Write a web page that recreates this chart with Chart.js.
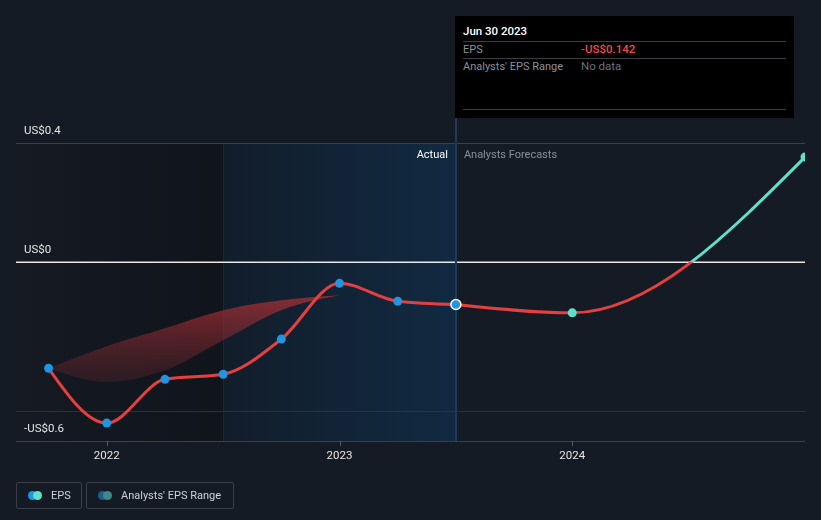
<!DOCTYPE html>
<html><head><meta charset="utf-8">
<script src="https://cdn.jsdelivr.net/npm/chart.js@4"></script>
<style>
html,body{margin:0;padding:0;background:#151b24;}
#wrap{position:relative;width:821px;height:520px;font-family:Roboto,"Noto Sans",sans-serif;overflow:hidden;}
#c{position:absolute;left:0;top:0;}
.tip{position:absolute;left:455px;top:16px;width:339px;height:102px;background:#000;}
.tip .t{position:absolute;left:8px;top:8px;color:#fff;font-size:11.5px;font-weight:500;}
.tip .hr{position:absolute;left:8px;width:323px;height:1px;background:#3a3d42;}
.tip .k{position:absolute;left:8px;color:#8b9099;font-size:11px;}
.tip .v{position:absolute;left:126px;font-size:11.5px;}
.leg{position:absolute;top:482px;height:27px;border:1px solid #3a4049;border-radius:2px;box-sizing:border-box;color:#cfd3d9;font-size:11px;}
.leg span.l{position:absolute;top:6px;}
.dot{position:absolute;top:8px;width:9px;height:9px;border-radius:50%;}
</style></head>
<body><div id="wrap">
<canvas id="c" width="821" height="520"></canvas>
<div class="tip">
  <div class="t">Jun 30 2023</div>
  <div class="hr" style="top:25px"></div>
  <div class="k" style="top:27px">EPS</div>
  <div class="v" style="top:26px;color:#f04a4a;font-weight:500">-US$0.142</div>
  <div class="hr" style="top:42px"></div>
  <div class="k" style="top:44px">Analysts' EPS Range</div>
  <div class="v" style="top:43px;color:#6b7079">No data</div>
  <div class="hr" style="top:93px"></div>
</div>
<div class="leg" style="left:16px;width:66px;">
  <div class="dot" style="left:11px;background:#2394df"></div>
  <div class="dot" style="left:16px;background:#5fe0ca"></div>
  <span class="l" style="left:34px">EPS</span>
</div>
<div class="leg" style="left:86px;width:148px;">
  <div class="dot" style="left:11px;background:#1f5f8c"></div>
  <div class="dot" style="left:16px;background:#3d8b88"></div>
  <span class="l" style="left:34px">Analysts' EPS Range</span>
</div>
</div>
<script>
// ---- data ----
const actualDates = [2021.75, 2022.0, 2022.25, 2022.5, 2022.75, 2023.0, 2023.25, 2023.5];
const epsActual   = [-0.356, -0.540, -0.393, -0.376, -0.258, -0.071, -0.131, -0.142];
const forecastDates = [2023.5, 2024.0, 2025.0];
const epsForecast   = [-0.142, -0.170, 0.353];
const rangeDates = [2021.75, 2022.0, 2022.25, 2022.5, 2022.75, 2023.0];
const rangeHigh  = [-0.356, -0.282, -0.222, -0.161, -0.128, -0.111];
const rangeLow   = [-0.356, -0.402, -0.363, -0.262, -0.161, -0.111];
const yTickValues = [0.4, 0, -0.6];
const yTickLabels = ['US$0.4', 'US$0', '-US$0.6'];
const xTickValues = [2022, 2023, 2024];
const xTickLabels = ['2022', '2023', '2024'];
const pastStart = 2022.5;
const lastActual = 2023.5;

const RED = '#e5403f', TEAL = '#5fe0ca', BLUE = '#2394df';
const pts = (xs, ys) => xs.map((x, i) => ({x, y: ys[i]}));

// monotone-X control points (d3 style) computed on the pixel positions given by the scales
const monotonePlugin = {
  id: 'monoX',
  afterDatasetsUpdate(chart) {
    chart.data.datasets.forEach((ds, di) => {
      const meta = chart.getDatasetMeta(di);
      const line = meta.dataset; if (!line) return;
      line.updateControlPoints(chart.chartArea, 'x');
      const p = meta.data; const n = p.length; if (n < 2) return;
      const sgn = v => v < 0 ? -1 : 1;
      const h = [], s = [];
      for (let i = 0; i < n - 1; i++) { h[i] = p[i+1].x - p[i].x; s[i] = (p[i+1].y - p[i].y) / h[i]; }
      const t = new Array(n);
      if (n === 2) { t[0] = t[1] = s[0]; }
      else {
        for (let i = 1; i < n - 1; i++) {
          const s0 = s[i-1], s1 = s[i], h0 = h[i-1], h1 = h[i];
          const q = (s0 * h1 + s1 * h0) / (h0 + h1);
          t[i] = (sgn(s0) + sgn(s1)) * Math.min(Math.abs(s0), Math.abs(s1), 0.5 * Math.abs(q)) || 0;
        }
        t[0] = (3 * s[0] - t[1]) / 2;
        t[n-1] = (3 * s[n-2] - t[n-2]) / 2;
      }
      for (let i = 0; i < n - 1; i++) {
        const dx = h[i] / 3;
        p[i].cp2x = p[i].x + dx; p[i].cp2y = p[i].y + dx * t[i];
        p[i+1].cp1x = p[i+1].x - dx; p[i+1].cp1y = p[i+1].y - dx * t[i+1];
      }
      p[0].cp1x = p[0].x; p[0].cp1y = p[0].y;
      p[n-1].cp2x = p[n-1].x; p[n-1].cp2y = p[n-1].y;
    });
  }
};

const bgPlugin = {
  id: 'bg',
  beforeDatasetsDraw(chart) {
    const {ctx, chartArea: a, scales: {x, y}} = chart;
    const xp = x.getPixelForValue(pastStart), xl = x.getPixelForValue(lastActual);
    ctx.save();
    let g = ctx.createLinearGradient(a.left, 0, xp, 0);
    g.addColorStop(0, '#151a23'); g.addColorStop(1, '#10141b');
    ctx.fillStyle = g; ctx.fillRect(a.left, a.top, xp - a.left, a.bottom - a.top);
    g = ctx.createLinearGradient(xp, 0, xl, 0);
    g.addColorStop(0, '#121d2a'); g.addColorStop(1, '#112a42');
    ctx.fillStyle = g; ctx.fillRect(xp, a.top, xl - xp, a.bottom - a.top);
    ctx.fillStyle = '#1b2938'; ctx.fillRect(xp, a.top, 1, a.bottom - a.top);
    const grid = [[0.4, '#3b4049'], [-0.5, '#2c323b'], [-0.6, '#3b4049']];
    grid.forEach(([v, c]) => { ctx.fillStyle = c; ctx.fillRect(a.left, Math.round(y.getPixelForValue(v)), a.right - a.left, 1); });
    ctx.fillStyle = '#e8e8e8'; ctx.fillRect(a.left, Math.round(y.getPixelForValue(0)) - 0.5, a.right - a.left, 1.5);
    ctx.fillStyle = '#1f3a58'; ctx.fillRect(Math.round(xl) - 1, 117, 2, a.bottom - 117);
    ctx.font = '11.5px Roboto, "Noto Sans", sans-serif';
    ctx.textBaseline = 'middle';
    ctx.fillStyle = '#e6e6e6'; ctx.textAlign = 'left';
    yTickValues.forEach((v, i) => ctx.fillText(yTickLabels[i], 24, y.getPixelForValue(v) - 12));
    ctx.textAlign = 'center';
    xTickValues.forEach((v, i) => {
      const px = x.getPixelForValue(v);
      ctx.fillStyle = '#555b63'; ctx.fillRect(Math.round(px), a.bottom, 1, 5);
      ctx.fillStyle = '#e6e6e6'; ctx.fillText(xTickLabels[i], px, a.bottom + 15);
    });
    ctx.font = '11px Roboto, "Noto Sans", sans-serif';
    ctx.textAlign = 'right'; ctx.fillStyle = '#ffffff';
    ctx.fillText('Actual', xl - 8, a.top + 12);
    ctx.textAlign = 'left'; ctx.fillStyle = '#8a9099';
    ctx.fillText('Analysts Forecasts', xl + 8, a.top + 12);
    ctx.restore();
  }
};

function forecastColor(c) {
  const chart = c.chart, a = chart.chartArea;
  if (!a) return RED;
  const y0 = chart.scales.y.getPixelForValue(0);
  const g = chart.ctx.createLinearGradient(0, a.top, 0, a.bottom);
  const s = Math.min(1, Math.max(0, (y0 - a.top) / (a.bottom - a.top)));
  g.addColorStop(0, TEAL); g.addColorStop(s, TEAL); g.addColorStop(s, RED); g.addColorStop(1, RED);
  return g;
}
function rangeFill(c) {
  const chart = c.chart, a = chart.chartArea;
  if (!a) return 'rgba(170,45,50,0.5)';
  const y = chart.scales.y;
  const g = chart.ctx.createLinearGradient(0, y.getPixelForValue(-0.11), 0, y.getPixelForValue(-0.40));
  g.addColorStop(0, 'rgba(175,48,52,0.75)');
  g.addColorStop(1, 'rgba(120,40,48,0.25)');
  return g;
}

new Chart(document.getElementById('c'), {
  type: 'line',
  data: {
    datasets: [
      {data: pts(actualDates, epsActual), borderColor: RED, borderWidth: 3, cubicInterpolationMode: 'monotone',
       pointRadius: actualDates.map((d, i) => i === actualDates.length - 1 ? 5 : 4.5),
       pointBackgroundColor: BLUE,
       pointBorderColor: actualDates.map((d, i) => i === actualDates.length - 1 ? '#ffffff' : BLUE),
       pointBorderWidth: actualDates.map((d, i) => i === actualDates.length - 1 ? 1.5 : 0), order: 1},
      {data: pts(forecastDates, epsForecast), borderColor: forecastColor, borderWidth: 3, cubicInterpolationMode: 'monotone',
       pointRadius: [0, 4.5, 4.5], pointBackgroundColor: TEAL, pointBorderWidth: 0, clip: 0, order: 2},
      {data: pts(rangeDates, rangeHigh), borderWidth: 0, pointRadius: 0, fill: false, cubicInterpolationMode: 'monotone', order: 4},
      {data: pts(rangeDates, rangeLow), borderWidth: 0, pointRadius: 0, fill: '-1', backgroundColor: rangeFill, cubicInterpolationMode: 'monotone', order: 3}
    ]
  },
  plugins: [monotonePlugin, bgPlugin],
  options: {
    responsive: false, animation: false, events: [],
    layout: {padding: {left: 16, right: 16, top: 143, bottom: 79}},
    plugins: {legend: {display: false}, tooltip: {enabled: false}},
    scales: {
      x: {type: 'linear', min: 2021.61, max: 2025.0, display: false},
      y: {type: 'linear', min: -0.6, max: 0.4, display: false}
    }
  }
});
</script>
</body></html>
